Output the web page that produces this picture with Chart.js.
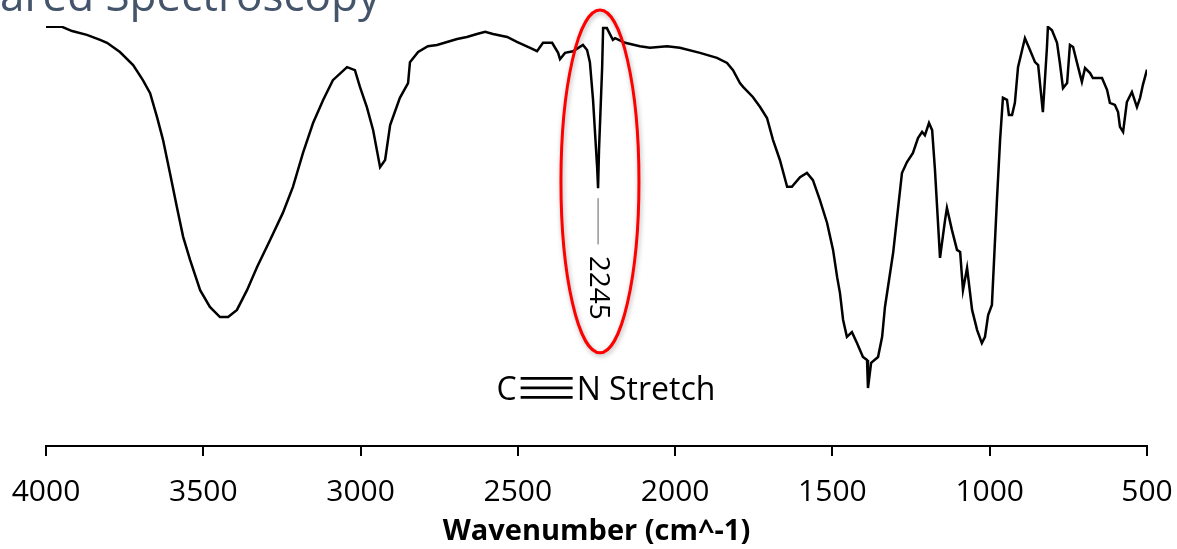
<!DOCTYPE html>
<html>
<head>
<meta charset="utf-8">
<script src="https://cdn.jsdelivr.net/npm/chart.js"></script>
<style>
  html, body { margin: 0; padding: 0; background: #fff; }
</style>
</head>
<body>
<canvas id="ir" width="1177" height="549"></canvas>
<script>
// IR spectrum, values
const wavenumbers = [4000,3949,3917,3870,3828,3806,3765,3723,3692,3669,
  3647,3628,3606,3584,3564,3542,3510,3479,3447,3421,
  3393,3361,3329,3288,3247,3215,3183,3151,3119,3088,
  3043,3018,3002,2980,2960,2938,2922,2906,2875,2849,
  2843,2817,2786,2757,2725,2693,2662,2630,2604,2579,
  2534,2503,2461,2439,2420,2391,2372,2366,2350,2325,
  2293,2280,2271,2261,2248,2245,2242,2232,2229,2217,
  2198,2191,2159,2112,2080,2026,1985,1921,1867,1835,
  1816,1794,1784,1753,1730,1708,1689,1667,1644,1629,
  1603,1581,1562,1540,1517,1498,1485,1476,1466,1454,
  1438,1422,1403,1390,1387,1377,1355,1342,1333,1307,
  1279,1263,1244,1228,1215,1206,1193,1183,1174,1158,
  1142,1136,1120,1104,1094,1085,1072,1056,1040,1025,
  1015,1005,993,977,967,958,945,939,929,920,
  910,897,888,872,856,846,831,818,815,802,
  786,777,767,754,745,735,719,707,697,681,
  672,643,627,618,602,592,586,576,564,548,
  532,522,513,500];

const transmittance = [99.8,99.8,98.8,97.9,96.7,96.0,93.8,90.7,87.1,84.0,
  78.3,72.9,65.0,56.9,49.8,44.3,37.1,33.1,30.7,30.7,
  32.4,37.1,42.6,49.0,55.5,61.7,69.8,76.9,82.4,87.1,
  90.2,89.5,85.5,80.7,75.2,66.4,68.1,76.4,82.9,86.4,
  91.4,93.8,95.2,95.5,96.2,96.9,97.4,98.1,98.6,98.1,
  97.4,96.2,94.8,94.0,96.0,96.0,93.6,92.1,93.6,94.0,
  95.5,94.3,91.4,82.4,66.4,61.4,70.5,90.2,99.5,99.5,
  96.7,97.1,96.0,95.2,94.8,95.2,94.8,93.6,92.4,91.2,
  89.5,86.4,85.5,83.1,80.7,78.1,72.9,68.1,61.7,61.7,
  64.0,65.0,63.3,58.6,53.1,46.7,40.2,36.4,30.0,26.0,
  27.1,24.5,21.2,20.5,13.8,19.8,21.2,26.0,33.1,46.0,
  65.0,67.6,69.8,73.3,74.8,74.0,76.9,75.2,65.7,44.8,
  53.8,56.7,51.4,46.7,46.2,37.1,42.4,32.4,27.6,24.5,
  26.0,31.2,33.6,58.6,72.9,82.9,82.4,78.8,78.8,81.7,
  90.2,94.3,97.1,94.3,91.4,90.7,79.5,95.0,99.8,99.0,
  96.0,91.2,85.2,86.4,95.5,95.0,90.2,86.7,90.0,88.8,
  87.6,87.6,84.8,81.7,81.2,79.5,76.0,74.8,81.9,84.3,
  80.7,82.9,86.0,89.6];

const xTicks = [4000, 3500, 3000, 2500, 2000, 1500, 1000, 500];
const xTitle = 'Wavenumber (cm^-1)';
const slideTitle = 'Infrared Spectroscopy';
const peakWavenumber = 2245;
const peakLabel = '2245';
const bondLabelLeft = 'C';
const bondLabelRight = 'N Stretch';

const FONT = "'Open Sans', 'Noto Sans', sans-serif";
Chart.defaults.font.family = FONT;

const spectrum = wavenumbers.map((w, i) => ({ x: w, y: transmittance[i] }));

// red ellipse, leader line, peak label, band label and cut-off slide title
const annotations = {
  id: 'annotations',
  afterDraw(chart) {
    const ctx = chart.ctx;
    const xs = chart.scales.x, ys = chart.scales.y;

    // slide title, mostly above the picture
    ctx.save();
    ctx.font = '44px ' + FONT;
    ctx.fillStyle = '#44546a';
    ctx.textBaseline = 'alphabetic';
    ctx.fillText(slideTitle, -ctx.measureText('Infr').width, 11);
    ctx.restore();

    // leader line
    const px = xs.getPixelForValue(peakWavenumber);
    ctx.save();
    ctx.strokeStyle = '#606060';
    ctx.lineWidth = 1;
    ctx.beginPath();
    ctx.moveTo(px, ys.getPixelForValue(59));
    ctx.lineTo(px, ys.getPixelForValue(48));
    ctx.stroke();

    // rotated peak label
    ctx.translate(px, ys.getPixelForValue(37.7));
    ctx.rotate(Math.PI / 2);
    ctx.font = '28px ' + FONT;
    ctx.fillStyle = '#000';
    ctx.textAlign = 'center';
    ctx.textBaseline = 'middle';
    ctx.fillText(peakLabel, 0, 0);
    ctx.restore();

    // ellipse
    const cx = xs.getPixelForValue(2239);
    const cy = ys.getPixelForValue(63);
    const rx = Math.abs(xs.getPixelForValue(2239 - 124) - cx);
    const ry = Math.abs(ys.getPixelForValue(63 + 40.8) - cy);
    ctx.save();
    ctx.strokeStyle = '#ff0000';
    ctx.lineWidth = 3;
    ctx.shadowColor = 'rgba(0,0,0,0.3)';
    ctx.shadowBlur = 5;
    ctx.shadowOffsetX = 1;
    ctx.shadowOffsetY = 2;
    ctx.beginPath();
    ctx.ellipse(cx, cy, rx, ry, 0, 0, Math.PI * 2);
    ctx.stroke();
    ctx.restore();

    // C≡N Stretch
    ctx.save();
    ctx.font = '32px ' + FONT;
    ctx.fillStyle = '#000';
    ctx.textBaseline = 'alphabetic';
    const bondLen = 52, gap = 4;
    const wC = ctx.measureText(bondLabelLeft).width;
    const wN = ctx.measureText(bondLabelRight).width;
    const total = wC + gap + bondLen + gap + wN;
    let lx = xs.getPixelForValue(2220) - total / 2;
    const base = ys.getPixelForValue(11);
    ctx.fillText(bondLabelLeft, lx, base);
    lx += wC + gap;
    ctx.strokeStyle = '#000';
    ctx.lineWidth = 2.8;
    [-21.5, -12, -2.5].forEach(dy => {
      ctx.beginPath();
      ctx.moveTo(lx, base + dy);
      ctx.lineTo(lx + bondLen, base + dy);
      ctx.stroke();
    });
    lx += bondLen + gap;
    ctx.fillText(bondLabelRight, lx, base);
    ctx.restore();
  }
};

new Chart(document.getElementById('ir'), {
  type: 'line',
  data: {
    datasets: [{
      data: spectrum,
      borderColor: '#000',
      borderWidth: 2.5,
      tension: 0,
      pointRadius: 0,
      fill: false
    }]
  },
  options: {
    responsive: false,
    animation: false,
    devicePixelRatio: 1,
    layout: { padding: { top: 26, left: 46, right: 30, bottom: 0 } },
    plugins: {
      legend: { display: false },
      tooltip: { enabled: false }
    },
    scales: {
      x: {
        type: 'linear',
        reverse: true,
        min: 500,
        max: 4000,
        afterBuildTicks: s => { s.ticks = xTicks.map(v => ({ value: v })); },
        afterFit: s => {
          // keep the plot edges where the reference has them
          s.paddingLeft = 0;
          s.paddingRight = 0;
          s.height = 103;
        },
        ticks: {
          color: '#000',
          font: { size: 30 },
          padding: 18,
          maxRotation: 0,
          autoSkip: false,
          callback: v => String(v)
        },
        grid: {
          drawOnChartArea: false,
          drawTicks: true,
          tickLength: 10,
          color: '#000',
          lineWidth: 2
        },
        border: { display: true, color: '#000', width: 2 },
        title: {
          display: true,
          text: xTitle,
          color: '#000',
          font: { size: 29, weight: 'bold' },
          padding: { top: 0, bottom: 0 }
        }
      },
      y: {
        display: false,
        min: 0,
        max: 100
      }
    }
  },
  plugins: [annotations]
});
</script>
</body>
</html>
